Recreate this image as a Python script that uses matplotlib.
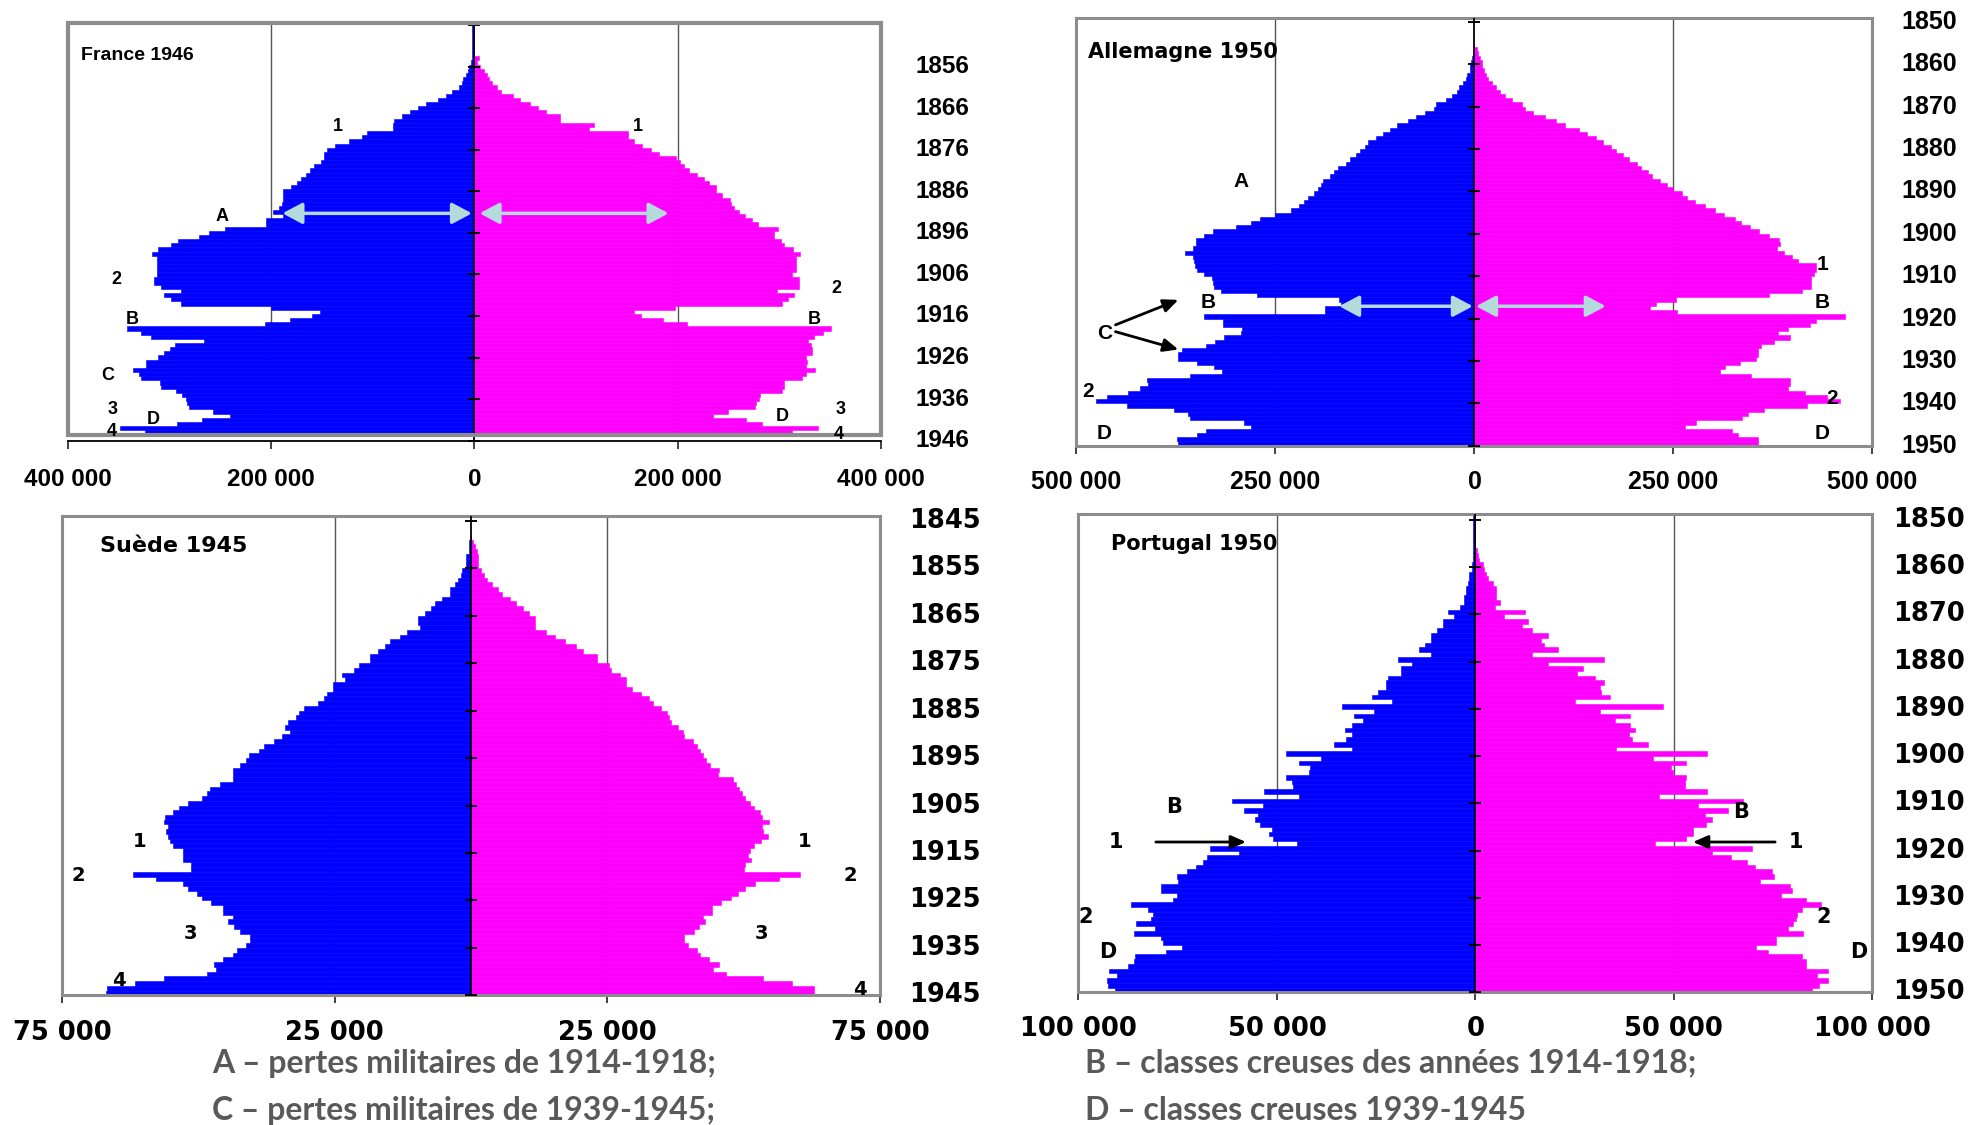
import numpy as np
import matplotlib
matplotlib.use("Agg")
import matplotlib.pyplot as plt
from matplotlib.patches import Rectangle, FancyArrowPatch
from matplotlib.transforms import blended_transform_factory

BLEU = "#0000ff"
ROSE = "#ff00ff"
FLECHE = "#b4dadc"

# effectifs en milliers, par annee de naissance

# France 1946, naissances 1846-1944
fr_annees = list(range(1846, 1945))
fr_hommes = [2, 2, 2, 2, 2, 2, 2, 2, 2, 3,
             5, 6, 8, 11, 12, 15, 22, 28, 36, 48,
             56, 63, 71, 79, 80, 80, 106, 111, 123, 137,
             145, 148, 148, 151, 158, 162, 166, 171, 175, 181,
             188, 188, 188, 189, 192, 198, 188, 205, 205, 246,
             261, 271, 292, 299, 311, 317, 312, 312, 312, 312,
             312, 315, 315, 308, 289, 306, 299, 289, 200, 152,
             160, 182, 206, 342, 328, 318, 266, 295, 300, 306,
             311, 323, 323, 336, 330, 328, 309, 308, 294, 288,
             284, 283, 281, 257, 241, 268, 293, 349, 324]
fr_femmes = [0, 0, 0, 0, 0, 0, 0, 0, 4, 2,
             5, 9, 12, 14, 17, 22, 26, 38, 45, 55,
             63, 70, 84, 84, 118, 113, 151, 151, 157, 165,
             174, 182, 198, 202, 206, 211, 219, 226, 231, 238,
             238, 244, 251, 252, 255, 260, 266, 273, 279, 299,
             295, 295, 302, 305, 313, 320, 316, 316, 316, 316,
             312, 319, 319, 319, 298, 314, 309, 303, 197, 157,
             164, 186, 209, 351, 343, 334, 328, 331, 332, 332,
             326, 327, 326, 335, 326, 322, 305, 305, 303, 281,
             280, 277, 276, 249, 235, 267, 283, 338, 312]
fr_labels = [1856, 1866, 1876, 1886, 1896, 1906, 1916, 1926, 1936, 1946]
fr_xticks = [-400000, -200000, 0, 200000, 400000]

# Allemagne 1950, naissances 1857-1950
de_annees = list(range(1857, 1951))
de_hommes = [1, 2, 3, 4, 5, 6, 9, 11, 15, 19,
             22, 28, 36, 48, 51, 62, 73, 83, 97, 106,
             115, 124, 134, 138, 144, 149, 156, 162, 171, 177,
             182, 190, 193, 197, 202, 209, 214, 221, 231, 250,
             270, 281, 300, 328, 340, 350, 350, 354, 364, 354,
             352, 351, 348, 340, 330, 329, 327, 318, 273, 170,
             168, 188, 188, 340, 316, 316, 292, 293, 315, 326,
             337, 368, 373, 372, 348, 327, 317, 358, 411, 410,
             420, 435, 462, 475, 436, 378, 360, 358, 289, 281,
             337, 348, 374, 373]
de_femmes = [3, 5, 7, 9, 10, 12, 15, 17, 22, 27,
             32, 38, 47, 60, 63, 74, 89, 102, 114, 131,
             142, 153, 161, 172, 178, 187, 194, 204, 209, 218,
             223, 233, 242, 250, 261, 267, 277, 290, 302, 313,
             327, 335, 346, 358, 370, 383, 384, 380, 389, 399,
             407, 429, 429, 426, 423, 423, 423, 411, 370, 253,
             228, 220, 255, 465, 429, 422, 394, 381, 396, 376,
             360, 356, 356, 354, 334, 315, 308, 348, 397, 397,
             394, 415, 443, 459, 418, 364, 344, 336, 278, 265,
             323, 331, 356, 356]
de_labels = [1850, 1860, 1870, 1880, 1890, 1900, 1910, 1920, 1930, 1940, 1950]
de_xticks = [-500000, -250000, 0, 250000, 500000]

# Suede 1945, naissances 1849-1945
se_annees = list(range(1849, 1946))
se_hommes = [0, 0.3, 0.4, 0.4, 0.9, 0.9, 0.9, 1.6, 1.9, 2.4,
             3.0, 3.8, 3.8, 5.3, 6.6, 7.4, 8.5, 9.7, 9.7, 9.4,
             11.8, 13.1, 14.9, 15.7, 17.0, 18.5, 18.5, 20.5, 21.4, 23.7,
             23.2, 25.3, 25.3, 26.4, 27.0, 28.0, 30.6, 31.5, 32.2, 33.5,
             34.2, 33.3, 34.6, 36.2, 37.9, 38.9, 40.8, 41.3, 42.3, 43.7,
             43.7, 43.7, 46.1, 47.9, 48.4, 49.3, 51.9, 53.5, 54.6, 56.2,
             56.4, 55.6, 55.9, 55.6, 55.3, 54.6, 52.8, 52.8, 52.8, 51.4,
             51.4, 62.0, 57.8, 52.8, 51.9, 50.3, 49.3, 47.7, 45.5, 45.5,
             43.7, 44.5, 43.4, 42.3, 40.5, 40.5, 41.3, 42.9, 43.6, 45.5,
             47.1, 46.8, 48.5, 56.4, 61.7, 66.8, 67.0]
se_femmes = [0, 0.3, 0.8, 1.1, 1.2, 1.3, 1.3, 1.8, 2.3, 3.0,
             3.9, 4.9, 5.7, 7.1, 8.2, 9.6, 10.6, 11.7, 11.7, 11.7,
             13.8, 15.3, 17.2, 19.2, 20.6, 23.1, 23.1, 25.2, 25.7, 27.3,
             28.4, 28.4, 29.5, 31.1, 32.7, 33.4, 34.8, 35.9, 36.2, 36.6,
             38.0, 38.8, 39.1, 40.6, 41.5, 42.0, 42.6, 43.0, 43.8, 45.4,
             45.2, 48.1, 48.6, 49.2, 49.7, 50.2, 51.1, 51.8, 52.9, 53.4,
             54.7, 53.4, 53.6, 54.5, 53.2, 51.8, 51.1, 50.8, 51.3, 50.2,
             50.0, 60.3, 56.4, 52.1, 50.2, 49.0, 47.6, 45.8, 44.2, 44.2,
             42.6, 42.8, 41.7, 40.9, 39.0, 39.0, 39.8, 41.5, 41.9, 43.6,
             45.4, 44.4, 46.8, 53.6, 58.9, 62.8, 62.8]
se_labels = [1845, 1855, 1865, 1875, 1885, 1895, 1905, 1915, 1925, 1935, 1945]
se_xticks = [-75000, -25000, 25000, 75000]

# Portugal 1950, naissances 1849-1950
pt_annees = list(range(1849, 1951))
pt_hommes = [0.5, 0.5, 0.5, 0.5, 0.5, 0.5, 0.5, 0.5, 0.5, 0.5,
             0.5, 0.9, 0.9, 1.5, 1.5, 1.9, 2.4, 2.4, 3.0, 3.0,
             3.8, 6.8, 5.3, 8.1, 8.1, 9.7, 11.2, 11.2, 12.7, 14.2,
             11.2, 19.5, 15.9, 18.7, 18.7, 22.1, 22.6, 22.6, 24.5, 26.1,
             20.9, 33.5, 25.5, 30.7, 28.3, 31.1, 32.9, 31.0, 32.5, 35.7,
             31.0, 47.6, 38.8, 44.4, 41.7, 42.0, 47.6, 46.2, 45.9, 53.2,
             44.4, 61.4, 53.5, 58.4, 54.7, 55.5, 54.3, 51.3, 52.1, 51.0,
             45.0, 66.8, 59.5, 67.6, 68.7, 70.5, 72.7, 75.2, 74.9, 79.1,
             79.1, 75.2, 76.1, 86.7, 82.6, 81.3, 81.6, 85.6, 80.8, 86.0,
             79.1, 78.6, 73.8, 77.9, 85.7, 86.0, 87.5, 92.3, 90.4, 92.9,
             92.6, 90.9]
pt_femmes = [0, 0, 0, 0, 0, 0, 0, 0, 0.3, 0.6,
             1.0, 1.8, 2.2, 2.7, 3.2, 4.4, 5.2, 5.2, 5.2, 6.2,
             5.0, 12.5, 7.2, 13.3, 11.8, 14.3, 18.3, 16.5, 17.3, 20.7,
             14.3, 32.5, 18.3, 27.1, 25.7, 30.1, 32.5, 31.3, 31.6, 33.9,
             25.1, 47.2, 31.3, 38.9, 35.1, 38.9, 40.1, 38.6, 39.4, 43.5,
             35.3, 58.3, 44.8, 53.1, 49.3, 49.7, 53.1, 52.7, 52.7, 58.3,
             46.3, 67.4, 56.1, 63.7, 57.8, 59.6, 58.1, 54.9, 54.9, 53.1,
             45.3, 69.6, 59.6, 64.5, 68.4, 70.4, 74.8, 75.2, 71.8, 79.2,
             79.7, 77.0, 83.2, 87.0, 82.2, 81.1, 80.7, 79.9, 78.8, 82.6,
             75.8, 75.8, 70.8, 73.8, 82.2, 83.2, 83.2, 88.8, 86.1, 88.8,
             86.6, 84.7]
pt_labels = [1850, 1860, 1870, 1880, 1890, 1900, 1910, 1920, 1930, 1940, 1950]
pt_xticks = [-100000, -50000, 0, 50000, 100000]

legende = ["A \u2013 pertes militaires de 1914-1918;",
           "C \u2013 pertes militaires de 1939-1945;",
           "B \u2013 classes creuses des ann\u00e9es 1914-1918;",
           "D \u2013 classes creuses 1939-1945"]

HAUT = ["Liberation Sans", "DejaVu Sans"]
BAS = ["DejaVu Sans"]

fig = plt.figure(figsize=(19.77, 11.25), dpi=100)


def fmt(v):
    return f"{abs(int(v)):,}".replace(",", " ")


def pyramide(rect, annees, hommes, femmes, decal, xmax, xticks, grille, labels,
             ybas, yhaut, police, fs, pad, annee_x, cadre=None):
    ax = fig.add_axes(rect)
    y = np.asarray(annees) - decal
    ax.barh(y, -np.asarray(hommes) * 1000, height=1.0, color=BLEU, ec=BLEU, lw=0.4, zorder=2)
    ax.barh(y, np.asarray(femmes) * 1000, height=1.0, color=ROSE, ec=ROSE, lw=0.4, zorder=2)
    ax.set_xlim(-xmax, xmax)
    ax.set_ylim(ybas, yhaut)
    gbas = 0 if cadre is None else (ybas - cadre) / (ybas - yhaut)
    for g in grille:
        ax.axvline(g, ymin=gbas, color="#555555", lw=1.0, zorder=1)
    ax.axvline(0, color="black", lw=1.3, zorder=3)
    marques = [a for a in range(labels[0] - 10, labels[-1] + 1, 10) if a >= yhaut]
    ax.plot(np.zeros(len(marques)), marques, ls="none", marker="_", ms=8, mew=1.4,
            color="black", zorder=4, clip_on=False)
    ax.set_yticks([])
    ax.set_xticks(xticks)
    ax.set_xticklabels([fmt(v) for v in xticks], family=police, weight="bold", fontsize=fs)
    ax.tick_params(axis="x", direction="out", length=6, width=1.3, color="#333333", pad=pad)
    tr = blended_transform_factory(ax.transAxes, ax.transData)
    for a in labels:
        ax.text(annee_x, a, str(a), transform=tr, ha="center", va="center",
                family=police, weight="bold", fontsize=fs, clip_on=False)
    if cadre is None:
        for s in ax.spines.values():
            s.set_color("#8c8c8c")
            s.set_linewidth(2.2)
    else:
        for s in ("left", "right", "top"):
            ax.spines[s].set_visible(False)
        ax.spines["bottom"].set_color("black")
        ax.spines["bottom"].set_linewidth(1.3)
        ax.add_patch(Rectangle((0, gbas), 1, 1 - gbas, transform=ax.transAxes, fill=False,
                               ec="#8c8c8c", lw=3, clip_on=False, zorder=5))
    return ax


def notes(ax, liste, police, fs):
    for t, x, y in liste:
        ax.text(x, y, t, ha="center", va="center", family=police, weight="bold", fontsize=fs, zorder=7)


def fleche(ax, x0, x1, y0, y1, couleur, style, lw, ms):
    ax.add_patch(FancyArrowPatch((x0, y0), (x1, y1), arrowstyle=style, mutation_scale=ms,
                                 color=couleur, lw=lw, shrinkA=0, shrinkB=0, zorder=6))


DOUBLE = "<|-|>,head_length=0.6,head_width=0.32"
SIMPLE = "-|>,head_length=0.5,head_width=0.22"

# France
ax = pyramide([0.0344, 0.6083, 0.4112, 0.3716], fr_annees, fr_hommes, fr_femmes, 0,
              400000, fr_xticks, [-200000, 200000], fr_labels, 1946, 1845.4,
              HAUT, 17.5, 13.5, 1.076, cadre=1944.6)
ax.text(-387000, 1853.4, "France 1946", ha="left", va="center", family=HAUT,
        weight="bold", fontsize=14)
notes(ax, [("1", -134000, 1870.3), ("1", 161000, 1870.3), ("A", -248000, 1892.1),
           ("2", -352000, 1907.3), ("2", 356000, 1909.5), ("B", -337000, 1916.8),
           ("B", 334000, 1916.9), ("C", -361000, 1930.4), ("3", -356000, 1938.6),
           ("D", -316000, 1940.8), ("4", -357000, 1943.8), ("D", 303000, 1940.2),
           ("3", 360000, 1938.6), ("4", 358000, 1944.6)], HAUT, 13)
fleche(ax, -189000, -2500, 1891.3, 1891.3, FLECHE, DOUBLE, 2.5, 20)
fleche(ax, 5000, 191000, 1891.3, 1891.3, FLECHE, DOUBLE, 2.5, 20)

# Allemagne
ax = pyramide([0.5445, 0.6038, 0.4026, 0.3799], de_annees, de_hommes, de_femmes, 0.5,
              500000, de_xticks, [-250000, 250000], de_labels, 1950, 1849.2,
              HAUT, 18, 11.5, 1.0714)
ax.text(-486000, 1857.1, "Allemagne 1950", ha="left", va="center", family=BAS,
        weight="bold", fontsize=15)
notes(ax, [("A", -293000, 1887.7), ("1", 437000, 1907.2), ("B", -335000, 1916.3),
           ("B", 437000, 1916.3), ("C", -465000, 1923.5), ("2", -486000, 1937.3),
           ("2", 449000, 1938.8), ("D", -465000, 1947.1), ("D", 437000, 1947.1)], HAUT, 15)
fleche(ax, -170000, -2000, 1917.1, 1917.1, FLECHE, DOUBLE, 2.5, 20)
fleche(ax, 2000, 165000, 1917.1, 1917.1, FLECHE, DOUBLE, 2.5, 20)
fleche(ax, -451000, -372000, 1921.5, 1915.6, "black", SIMPLE, 2, 18)
fleche(ax, -451000, -372000, 1923.1, 1927.3, "black", SIMPLE, 2, 18)

# Suede
ax = pyramide([0.0314, 0.1152, 0.4138, 0.4262], se_annees, se_hommes, se_femmes, 0.5,
              75000, se_xticks, [-25000, 25000], se_labels, 1945, 1844,
              BAS, 18.5, 11.5, 1.079)
ax.text(-68000, 1850.3, "Su\u00e8de 1945", ha="left", va="center", family=BAS,
        weight="bold", fontsize=16)
notes(ax, [("1", -60700, 1912.6), ("1", 61200, 1912.6), ("2", -72000, 1919.7),
           ("2", 69500, 1919.7), ("3", -51500, 1931.9), ("3", 53300, 1931.9),
           ("4", -64500, 1941.8), ("4", 71200, 1943.7)], BAS, 14)

# Portugal
ax = pyramide([0.5455, 0.1180, 0.4016, 0.4250], pt_annees, pt_hommes, pt_femmes, 0.5,
              100000, pt_xticks, [-50000, 50000], pt_labels, 1950, 1848.8,
              BAS, 18.5, 11, 1.071)
ax.text(-91700, 1855.1, "Portugal 1950", ha="left", va="center", family=BAS,
        weight="bold", fontsize=15)
notes(ax, [("B", -75900, 1910.8), ("B", 66800, 1911.9), ("1", -90600, 1918.2),
           ("1", 80800, 1918.2), ("2", -98100, 1934.0), ("2", 87800, 1934.0),
           ("D", -92500, 1941.4), ("D", 96600, 1941.4)], BAS, 15)
fleche(ax, -80500, -57800, 1918.2, 1918.2, "black", SIMPLE, 2, 18)
fleche(ax, 75500, 54800, 1918.2, 1918.2, "black", SIMPLE, 2, 18)

# legende du bas
for i, (x, y) in enumerate([(0.1073, 0.0551), (0.1073, 0.0133), (0.5486, 0.0551), (0.5486, 0.0133)]):
    fig.text(x, y, legende[i], ha="left", va="center", family=["Lato", "DejaVu Sans"],
             weight="bold", fontsize=23, color="#595959")

fig.savefig("out.png", dpi=100, facecolor="white")
